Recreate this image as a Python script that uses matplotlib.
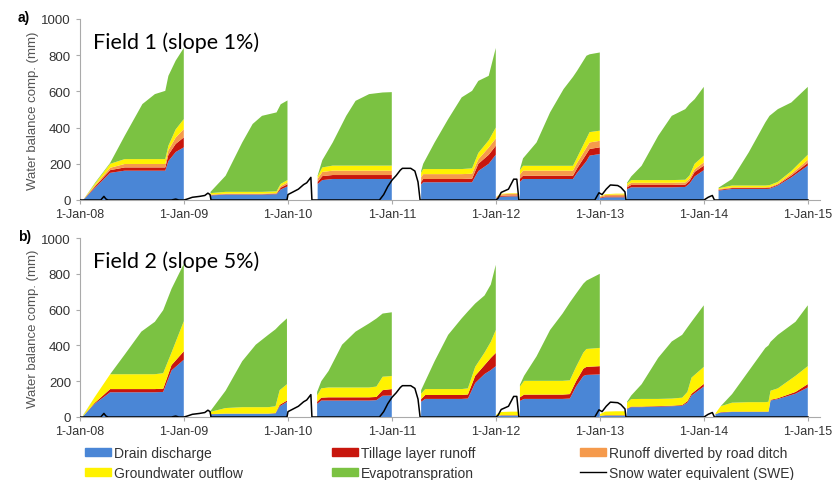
import matplotlib
matplotlib.use("Agg")
import matplotlib.pyplot as plt
from matplotlib.patches import Patch
from matplotlib.lines import Line2D

# time in years since 1-Jan-08, one list per block of cumulative sums
a_t = [
    [0.03, 0.15, 0.29, 0.43, 0.60, 0.72, 0.82, 0.85, 0.92, 0.998],
    [1.255, 1.40, 1.56, 1.66, 1.75, 1.89, 1.93, 1.995],
    [2.285, 2.33, 2.43, 2.56, 2.65, 2.78, 2.91, 2.998],
    [3.28, 3.30, 3.41, 3.54, 3.67, 3.77, 3.83, 3.93, 3.998],
    [4.005, 4.05, 4.15, 4.22],
    [4.23, 4.26, 4.39, 4.52, 4.65, 4.74, 4.78, 4.87, 4.90, 4.998],
    [5.0, 5.05, 5.15, 5.25],
    [5.26, 5.30, 5.40, 5.56, 5.69, 5.82, 5.86, 5.91, 5.998],
    [6.14, 6.27, 6.43, 6.59, 6.63, 6.71, 6.84, 6.998],
]
a_drain = [
    [0, 70, 150, 162, 162, 162, 162, 215, 265, 291],
    [25, 30, 30, 30, 30, 32, 58, 75],
    [88, 110, 116, 116, 116, 116, 116, 116],
    [85, 98, 98, 98, 98, 98, 160, 200, 250],
    [10, 18, 20, 20],
    [100, 116, 116, 116, 116, 116, 150, 215, 245, 254],
    [10, 15, 15, 15],
    [60, 70, 70, 70, 70, 72, 90, 130, 165],
    [52, 61, 61, 61, 62, 80, 125, 190],
]
a_till = [
    [0, 8, 15, 18, 18, 18, 18, 35, 45, 55],
    [2, 2, 2, 2, 2, 3, 10, 12],
    [12, 22, 22, 22, 22, 22, 22, 22],
    [15, 18, 18, 18, 18, 20, 40, 50, 50],
    [3, 5, 5, 5],
    [18, 18, 18, 18, 18, 18, 25, 40, 37, 37],
    [3, 5, 5, 5],
    [10, 13, 13, 13, 13, 13, 15, 25, 25],
    [4, 5, 5, 5, 5, 5, 10, 15],
]
a_road = [
    [0, 6, 13, 19, 19, 19, 19, 25, 35, 46],
    [3, 3, 3, 3, 3, 3, 9, 10],
    [18, 23, 24, 24, 24, 24, 24, 24],
    [25, 27, 27, 27, 27, 27, 25, 40, 40],
    [5, 8, 10, 10],
    [22, 28, 28, 28, 28, 28, 30, 35, 36, 36],
    [5, 8, 10, 10],
    [10, 12, 12, 12, 12, 12, 13, 15, 18],
    [4, 4, 4, 4, 5, 5, 10, 17],
]
a_gw = [
    [0, 10, 22, 27, 27, 27, 27, 25, 45, 55],
    [8, 10, 10, 10, 10, 10, 12, 13],
    [12, 25, 28, 28, 28, 28, 28, 28],
    [25, 28, 28, 28, 28, 30, 35, 40, 60],
    [2, 3, 3, 3],
    [25, 27, 27, 27, 27, 27, 30, 50, 57, 56],
    [2, 4, 5, 5],
    [10, 15, 15, 15, 15, 15, 17, 30, 37],
    [5, 10, 10, 10, 10, 10, 15, 28],
]
a_et = [
    [0, 5, 5, 129, 304, 359, 377, 386, 380, 393],
    [7, 89, 273, 375, 420, 436, 440, 440],
    [5, 40, 128, 275, 358, 395, 404, 406],
    [10, 29, 147, 276, 396, 428, 398, 356, 440],
    [0, 0, 0, 0],
    [5, 41, 129, 295, 424, 491, 479, 457, 430, 432],
    [0, 0, 0, 0],
    [5, 20, 79, 245, 355, 390, 395, 357, 380],
    [3, 36, 183, 349, 383, 402, 379, 375],
]

b_t = [
    [0.03, 0.14, 0.29, 0.43, 0.59, 0.72, 0.80, 0.88, 0.998],
    [1.25, 1.40, 1.56, 1.69, 1.81, 1.88, 1.92, 1.99],
    [2.28, 2.32, 2.39, 2.52, 2.65, 2.78, 2.85, 2.91, 2.998],
    [3.28, 3.32, 3.41, 3.54, 3.67, 3.73, 3.80, 3.89, 3.95, 3.998],
    [4.005, 4.05, 4.15, 4.22],
    [4.23, 4.27, 4.39, 4.52, 4.64, 4.71, 4.77, 4.84, 4.87, 4.998],
    [5.0, 5.05, 5.15, 5.25],
    [5.26, 5.30, 5.40, 5.56, 5.69, 5.79, 5.84, 5.88, 5.998],
    [6.11, 6.16, 6.27, 6.43, 6.59, 6.62, 6.64, 6.71, 6.88, 6.998],
]
b_drain = [
    [5, 73, 138, 138, 138, 138, 140, 260, 320],
    [15, 18, 18, 18, 18, 20, 60, 84],
    [73, 92, 92, 92, 92, 92, 94, 119, 120],
    [85, 101, 101, 101, 101, 103, 190, 240, 262, 284],
    [5, 8, 8, 8],
    [90, 101, 101, 101, 101, 103, 170, 229, 235, 238],
    [5, 8, 8, 8],
    [45, 55, 55, 58, 60, 63, 80, 120, 170],
    [15, 25, 28, 28, 28, 28, 92, 100, 130, 165],
]
b_till = [
    [0, 5, 18, 18, 18, 18, 18, 30, 47],
    [1, 1, 1, 1, 1, 2, 8, 8],
    [12, 16, 18, 18, 18, 18, 18, 31, 36],
    [15, 22, 22, 22, 22, 23, 40, 50, 68, 74],
    [1, 2, 2, 2],
    [20, 24, 24, 24, 24, 25, 30, 41, 45, 46],
    [1, 2, 2, 2],
    [3, 3, 3, 3, 3, 4, 8, 10, 15],
    [1, 2, 2, 2, 2, 2, 4, 5, 10, 19],
]
b_gw = [
    [3, 32, 83, 83, 83, 83, 87, 70, 168],
    [12, 31, 36, 36, 36, 38, 82, 91],
    [35, 52, 55, 55, 55, 55, 58, 75, 73],
    [30, 33, 33, 33, 33, 34, 50, 70, 90, 128],
    [10, 18, 20, 20],
    [60, 77, 77, 77, 77, 77, 80, 90, 100, 102],
    [10, 20, 22, 22],
    [32, 42, 43, 40, 40, 41, 52, 90, 95],
    [4, 33, 50, 53, 53, 55, 51, 55, 90, 100],
]
b_et = [
    [2, 0, 0, 110, 238, 293, 352, 356, 320],
    [2, 97, 257, 349, 404, 430, 364, 368],
    [20, 40, 92, 239, 312, 358, 380, 353, 356],
    [20, 44, 156, 303, 395, 430, 354, 319, 320, 364],
    [0, 0, 0, 0],
    [10, 28, 137, 284, 376, 435, 409, 385, 382, 414],
    [0, 0, 0, 0],
    [5, 20, 82, 230, 319, 351, 360, 312, 344],
    [0, 0, 48, 174, 303, 315, 273, 299, 302, 340],
]

# snow water equivalent (same weather for both fields)
swe_t = [0.0, 0.20, 0.23, 0.25, 0.27, 0.88, 0.92, 0.95,
         1.0, 1.03, 1.08, 1.15, 1.20, 1.23, 1.25, 1.26,
         1.99, 2.0, 2.05, 2.10, 2.15, 2.18, 2.22, 2.23,
         2.88, 2.92, 2.96, 3.0, 3.04, 3.08, 3.10, 3.18, 3.22, 3.25, 3.27,
         4.0, 4.02, 4.05, 4.12, 4.17, 4.20, 4.22,
         4.95, 4.99, 5.02, 5.06, 5.10, 5.17, 5.20, 5.24, 5.25,
         6.0, 6.04, 6.08, 6.10, 7.0]
swe = [0, 0, 20, 5, 0, 0, 5, 0,
       0, 5, 15, 20, 25, 38, 30, 0,
       0, 30, 45, 60, 85, 95, 125, 0,
       0, 30, 75, 110, 135, 165, 175, 175, 160, 100, 0,
       0, 10, 42, 60, 115, 115, 0,
       0, 40, 30, 60, 83, 80, 70, 45, 0,
       0, 15, 25, 0, 0]

tick_labels = ["1-Jan-08", "1-Jan-09", "1-Jan-10", "1-Jan-11",
               "1-Jan-12", "1-Jan-13", "1-Jan-14", "1-Jan-15"]

c_drain = "#4a86d6"
c_till = "#c8160d"
c_road = "#f59a4c"
c_gw = "#fff200"
c_et = "#7bc242"

plt.rcParams["font.family"] = ["Liberation Sans", "DejaVu Sans"]
W, H = 838, 481
fig = plt.figure(figsize=(W / 100, H / 100), dpi=100)


def panel(top_px, bottom_px, t, series, colors, title, tag):
    ax = fig.add_axes([80 / W, 1 - bottom_px / H, 740 / W, (bottom_px - top_px) / H])
    for i in range(len(t)):
        ax.stackplot(t[i], *[s[i] for s in series], colors=colors, linewidth=0)
    ax.plot(swe_t, swe, color="black", lw=1.1, zorder=5)
    ax.set_xlim(0, 740 / 104)
    ax.set_ylim(0, 1000)
    ax.set_xticks(range(8))
    ax.set_xticklabels(tick_labels, fontsize=9, color="#333333")
    ax.set_yticks([0, 200, 400, 600, 800, 1000])
    ax.tick_params(axis="y", labelsize=9.5, labelcolor="#333333", color="#aaaaaa", length=3)
    ax.tick_params(axis="x", color="#aaaaaa", length=3, pad=3)
    for s in ["top", "right"]:
        ax.spines[s].set_visible(False)
    ax.spines["left"].set_color("#aaaaaa")
    ax.spines["bottom"].set_color("#aaaaaa")
    ax.set_ylabel("Water balance comp. (mm)", fontsize=9.5, color="#555555", labelpad=2)
    h = bottom_px - top_px
    ax.text(13 / 740, (bottom_px - 43 - (top_px - 20)) / h, title, transform=ax.transAxes,
            fontsize=15.5, family="Lato", va="center", ha="left")
    fig.text(18 / W, 1 - (top_px - 2) / H, tag, fontsize=10, fontweight="bold", va="center")
    return ax


panel(20, 201, a_t, [a_drain, a_till, a_road, a_gw, a_et],
      [c_drain, c_till, c_road, c_gw, c_et], "Field 1 (slope 1%)", "a)")
panel(239, 418, b_t, [b_drain, b_till, b_gw, b_et],
      [c_drain, c_till, c_gw, c_et], "Field 2 (slope 5%)", "b)")

cols = [
    ([Patch(color=c_drain), Patch(color=c_gw)], ["Drain discharge", "Groundwater outflow"], 85),
    ([Patch(color=c_till), Patch(color=c_et)], ["Tillage layer runoff", "Evapotranspration"], 332),
    ([Patch(color=c_road), Line2D([], [], color="black", lw=1)],
     ["Runoff diverted by road ditch", "Snow water equivalent (SWE)"], 580),
]
for handles, labels, x in cols:
    fig.legend(handles, labels, loc="upper left", bbox_to_anchor=(x / W, 1 - 447 / H),
               frameon=False, fontsize=10, handlelength=1.9, handleheight=0.5,
               handletextpad=0.2, labelspacing=0.4, borderaxespad=0, borderpad=0,
               labelcolor="#333333")

fig.savefig("out.png", dpi=100)
